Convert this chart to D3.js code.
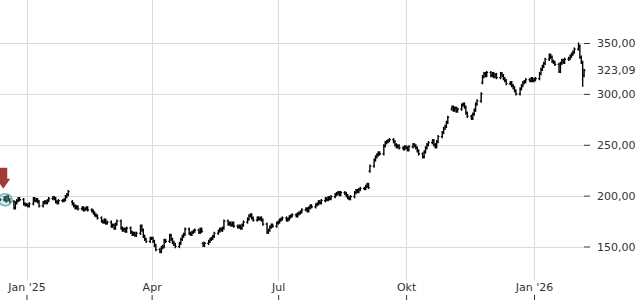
<!DOCTYPE html>
<html>
<head>
<meta charset="utf-8">
<script src="https://cdn.jsdelivr.net/npm/d3@7"></script>
<style>
  html, body { margin: 0; padding: 0; background: #fff; }
  svg { display: block; font-family: "DejaVu Sans", sans-serif; }
</style>
</head>
<body>
<svg id="chart" width="640" height="300"></svg>
<script>
// daily closes, one array per month (weekdays only)
const dec24 = [196, 198, 195, 199, 196, 194, 188, 193, 195, 197, 196, 192, 191]
const jan25 = [191, 190, 192, 197, 195, 196, 194, 190, 193, 194, 193, 195, 197, 198, 197, 194, 193, 195, 195, 196, 199, 201, 204]
const feb25 = [192, 190, 188, 189, 187, 188, 186, 187, 188, 186, 185, 183, 181, 180, 178, 175, 174, 176, 173, 174]
const mar25 = [170, 171, 168, 172, 175, 168, 166, 167, 165, 168, 164, 162, 163, 161, 163, 170, 166, 160, 157, 155, 158]
const apr25 = [158, 155, 151, 147, 145, 149, 150, 156, 155, 161, 157, 154, 152, 150, 153, 157, 160, 162, 167, 163, 162, 164]
const may25 = [165, 166, 164, 167, 165, 151, 153, 155, 157, 158, 160, 163, 165, 167, 166, 168, 175, 172, 173, 171, 173, 170]
const jun25 = [169, 170, 168, 171, 174, 177, 180, 181, 178, 176, 178, 177, 178, 176, 172, 164, 166, 169, 171, 170, 173]
const jul25 = [174, 176, 177, 178, 176, 177, 179, 180, 181, 180, 182, 183, 184, 186, 187, 185, 188, 190, 189, 191, 192, 194, 193]
const aug25 = [195, 197, 196, 198, 197, 199, 201, 202, 203, 201, 203, 202, 200, 198, 197, 199, 203, 205, 204, 206, 207]
const sep25 = [207, 209, 211, 208, 229, 235, 238, 240, 242, 241, 249, 252, 253, 254, 255, 253, 250, 248, 249, 247, 246, 248]
const oct25 = [247, 245, 248, 250, 249, 247, 244, 241, 238, 243, 247, 250, 252, 254, 250, 248, 253, 258, 262, 266, 268, 272, 277]
const nov25 = [287, 284, 286, 283, 285, 289, 290, 287, 281, 278, 276, 280, 284, 290, 293, 300, 317, 320, 318, 321]
const dec25 = [318, 320, 317, 319, 316, 320, 318, 315, 313, 310, 311, 308, 306, 303, 300, 305, 308, 311, 312, 314, 313, 315, 313]
const jan26 = [314, 315, 320, 324, 327, 330, 334, 338, 336, 332, 331, 329, 322, 330, 333, 331, 334, 335, 337, 339, 341, 344]
const feb26 = [347, 336, 331, 318, 323.09]

// [year, month, first day, closes]
const months = [
  [2024, 11, 13, dec24], [2025, 0, 1, jan25], [2025, 1, 1, feb25], [2025, 2, 1, mar25],
  [2025, 3, 1, apr25], [2025, 4, 1, may25], [2025, 5, 1, jun25], [2025, 6, 1, jul25],
  [2025, 7, 1, aug25], [2025, 8, 1, sep25], [2025, 9, 1, oct25], [2025, 10, 1, nov25],
  [2025, 11, 1, dec25], [2026, 0, 1, jan26], [2026, 1, 1, feb26]
]

// days that opened away from the previous close
const gapOpens = [['2025-02-03', 194], ['2025-05-08', 153], ['2025-09-05', 224], ['2025-11-03', 285], ['2025-11-25', 311]]
// intraday extremes beyond open/close
const highs = [['2026-02-02', 350.5]]
const lows = [['2026-02-05', 307]]

const xTickDates = ['2025-01-01', '2025-04-01', '2025-07-01', '2025-10-01', '2026-01-01']
const xTickLabels = ["Jan '25", 'Apr', 'Jul', 'Okt', "Jan '26"]
const yTicks = [150, 200, 250, 300, 350]
const lastPrice = 323.09
const marker = { date: '2024-12-16', price: 196 }

const parse = d3.timeParse('%Y-%m-%d')
const fmtDay = d3.timeFormat('%Y-%m-%d')
const de = d3.formatLocale({ decimal: ',', thousands: '.', grouping: [3], currency: ['', ' €'] })
const priceFormat = de.format('.2f')

//build bar list
const gapMap = new Map(gapOpens)
const highMap = new Map(highs)
const lowMap = new Map(lows)
const wick = 1.6
const bars = []
months.forEach(([yr, mo, from, vals]) => {
  let d = new Date(yr, mo, from)
  vals.forEach(v => {
    while (d.getDay() === 0 || d.getDay() === 6) d = d3.timeDay.offset(d, 1)
    const key = fmtDay(d)
    const prev = bars.length ? bars[bars.length - 1].close : v
    const open = gapMap.has(key) ? gapMap.get(key) : prev
    bars.push({
      date: d, open: open, close: v,
      high: highMap.has(key) ? highMap.get(key) : Math.max(open, v) + wick,
      low: lowMap.has(key) ? lowMap.get(key) : Math.min(open, v) - wick
    })
    d = d3.timeDay.offset(d, 1)
  })
})

//chart size
const plotRight = 584
const plotBottom = 281

//scales
const x = d3.scaleTime()
  .domain([new Date(2025, 0, 1), new Date(2026, 0, 1)])
  .range([26.5, 534])
const y = d3.scaleLinear()
  .domain([150, 350])
  .range([246.5, 43])

const svg = d3.select('#chart')

//grid
svg.append('g')
  .selectAll('line')
  .data(yTicks)
  .join('line')
  .attr('x1', 0)
  .attr('x2', plotRight)
  .attr('y1', d => Math.round(y(d)) + 0.5)
  .attr('y2', d => Math.round(y(d)) + 0.5)
  .attr('stroke', '#dcdcdc')

svg.append('g')
  .selectAll('line')
  .data(xTickDates.map(parse))
  .join('line')
  .attr('x1', d => Math.round(x(d)) + 0.5)
  .attr('x2', d => Math.round(x(d)) + 0.5)
  .attr('y1', 0)
  .attr('y2', plotBottom)
  .attr('stroke', '#dcdcdc')

//axes
const yAxis = d3.axisRight(y)
  .tickValues(yTicks)
  .tickSize(6)
  .tickPadding(7)
  .tickFormat(priceFormat)

const yAxisGroup = svg.append('g')
  .attr('transform', `translate(${plotRight},0)`)
  .call(yAxis)
yAxisGroup.select('.domain').remove()

const xAxis = d3.axisTop(x)
  .tickValues(xTickDates.map(parse))
  .tickSize(5)
  .tickPadding(4)
  .tickFormat((d, i) => xTickLabels[i])

const xAxisGroup = svg.append('g')
  .attr('transform', 'translate(0,300)')
  .call(xAxis)
xAxisGroup.select('.domain').remove()

svg.selectAll('.tick text')
  .attr('fill', '#333')
  .attr('font-size', 11)
  .attr('font-family', '"DejaVu Sans", sans-serif')
svg.selectAll('.tick line').attr('stroke', '#333')

//last price label
svg.append('text')
  .attr('x', plotRight + 13)
  .attr('y', y(lastPrice))
  .attr('dy', '0.32em')
  .attr('fill', '#333')
  .attr('font-size', 11)
  .text(priceFormat(lastPrice))

//ohlc bars
const barGroup = svg.append('g')
  .attr('stroke', '#000')
  .attr('fill', 'none')

bars.forEach(b => {
  const bx = x(b.date)
  barGroup.append('line')
    .attr('x1', bx).attr('x2', bx)
    .attr('y1', y(b.high)).attr('y2', y(b.low))
    .attr('stroke-width', 1.4)
  barGroup.append('line')
    .attr('x1', bx - 1.4).attr('x2', bx)
    .attr('y1', y(b.open)).attr('y2', y(b.open))
    .attr('stroke-width', 1.2)
  barGroup.append('line')
    .attr('x1', bx).attr('x2', bx + 1.4)
    .attr('y1', y(b.close)).attr('y2', y(b.close))
    .attr('stroke-width', 1.2)
})

//trade marker
const mx = x(parse(marker.date))
const my = y(marker.price)
svg.append('ellipse')
  .attr('cx', mx + 1)
  .attr('cy', my)
  .attr('rx', 7)
  .attr('ry', 6)
  .attr('fill', 'rgba(120,200,200,0.35)')
  .attr('stroke', '#6bb8b8')
  .attr('stroke-width', 1.5)

svg.append('path')
  .attr('d', `M${mx - 5},${my - 32} h8 v11 h3 l-7,10 l-7,-10 h3 z`)
  .attr('fill', '#a23b33')
</script>
</body>
</html>
